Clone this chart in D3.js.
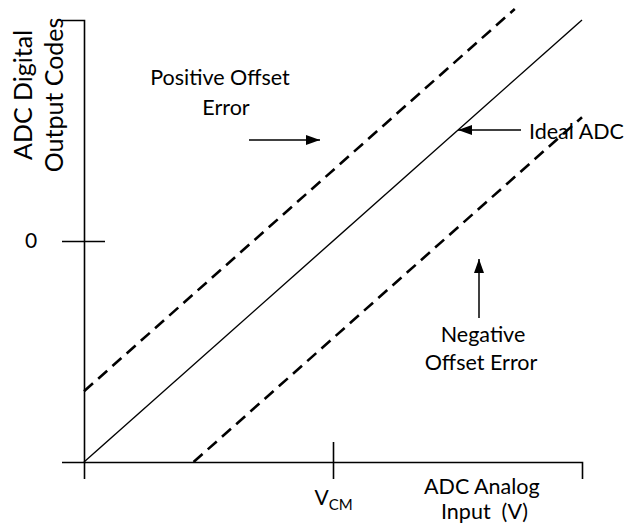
<!DOCTYPE html>
<html><head><meta charset="utf-8">
<script src="https://cdn.jsdelivr.net/npm/d3@7"></script>
<style>
body{margin:0;background:#fff}
svg text{font-family:Lato,"Open Sans",sans-serif;fill:#000;white-space:pre}
</style>
</head><body>
<svg id="c" width="635" height="525"></svg>
<script>
// ---- data (conceptual units 0..100) ----
const idealX = [0, 100];
const idealY = [0, 100];
const posOffsetX = [0, 86.5];
const posOffsetY = [16, 102.5];
const negOffsetX = [22, 100];
const negOffsetY = [0, 78];
const yTickValues = [50];
const yTickLabels = ["0"];
const xTickValues = [50];
const xTickLabels = ["V|CM"]; // main|subscript
const yTitleLines = ["ADC Digital", "Output Codes"];
const xTitleLines = ["ADC Analog", "Input  (V)"];

const svg = d3.select("#c");
const x = d3.scaleLinear().domain([0, 100]).range([84, 582]);
const y = d3.scaleLinear().domain([0, 100]).range([462, 20]);

// arrow marker
svg.append("defs").append("marker")
  .attr("id", "ah").attr("markerUnits", "userSpaceOnUse")
  .attr("viewBox", "0 0 14 10").attr("refX", 14).attr("refY", 5)
  .attr("markerWidth", 14).attr("markerHeight", 10).attr("orient", "auto")
  .append("path").attr("d", "M0,0L14,5L0,10Z").attr("fill", "#000");

// y axis
const gy = svg.append("g").attr("transform", `translate(${x(0)},0)`)
  .call(d3.axisLeft(y).tickValues(yTickValues).tickSizeOuter(0).tickSize(22)
        .tickFormat((d, i) => yTickLabels[i]));
gy.select(".domain").attr("stroke", "#000").attr("stroke-width", 1.6);
gy.selectAll(".tick line").attr("x1", 21).attr("x2", -22).attr("stroke-width", 1.6);
gy.selectAll(".tick text").attr("x", -53).attr("text-anchor", "middle")
  .attr("dy", "0.32em").style("font-size", "21px").style("font-family", "Lato");

// x axis
const gx = svg.append("g").attr("transform", `translate(0,${y(0)})`)
  .call(d3.axisBottom(x).tickValues(xTickValues).tickSizeOuter(0).tickSize(17)
        .tickFormat(() => ""));
gx.select(".domain").attr("stroke", "#000").attr("stroke-width", 1.6);
gx.selectAll(".tick line").attr("y1", -20).attr("y2", 17).attr("stroke-width", 1.6);
gx.selectAll(".tick text").remove();
gx.selectAll(".tick").each(function (d, i) {
  const parts = xTickLabels[i].split("|");
  const t = d3.select(this).append("text").attr("x", 0).attr("y", 43)
    .attr("text-anchor", "middle").style("font-size", "21px");
  t.append("tspan").text(parts[0]);
  t.append("tspan").attr("dy", 5).style("font-size", "15px").text(parts[1]);
});

// lines
const line = d3.line().x(d => x(d[0])).y(d => y(d[1]));
svg.append("path").datum(d3.zip(idealX, idealY)).attr("d", line)
  .attr("fill", "none").attr("stroke", "#000").attr("stroke-width", 1.4);
svg.append("path").datum(d3.zip(posOffsetX, posOffsetY)).attr("d", line)
  .attr("fill", "none").attr("stroke", "#000").attr("stroke-width", 2.6)
  .attr("stroke-dasharray", "12,7");
svg.append("path").datum(d3.zip(negOffsetX, negOffsetY)).attr("d", line)
  .attr("fill", "none").attr("stroke", "#000").attr("stroke-width", 2.6)
  .attr("stroke-dasharray", "12,7");

// axis titles
const yt = svg.append("text").attr("transform", "translate(0,95) rotate(-90)")
  .attr("text-anchor", "middle").style("font-size", "25px");
yt.append("tspan").attr("x", 0).attr("y", 32).text(yTitleLines[0]);
yt.append("tspan").attr("x", 0).attr("y", 63).text(yTitleLines[1]);

svg.append("text").attr("x", 424).attr("y", 494).style("font-size", "21.5px").text(xTitleLines[0]);
svg.append("text").attr("x", 441).attr("y", 519).style("font-size", "21.5px").text(xTitleLines[1]);

// annotations
const fs = "21.5px";
svg.append("text").attr("x", 220).attr("y", 85).attr("text-anchor", "middle").style("font-size", fs).text("Positive Offset");
svg.append("text").attr("x", 226).attr("y", 115).attr("text-anchor", "middle").style("font-size", fs).text("Error");
svg.append("line").attr("x1", 249).attr("y1", 140).attr("x2", 320).attr("y2", 140)
  .attr("stroke", "#000").attr("stroke-width", 1.5).attr("marker-end", "url(#ah)");

svg.append("text").attr("x", 529).attr("y", 139).style("font-size", fs).text("Ideal ADC");
svg.append("line").attr("x1", 521).attr("y1", 130).attr("x2", 458).attr("y2", 130)
  .attr("stroke", "#000").attr("stroke-width", 1.5).attr("marker-end", "url(#ah)");

svg.append("line").attr("x1", 479).attr("y1", 318).attr("x2", 479).attr("y2", 259)
  .attr("stroke", "#000").attr("stroke-width", 1.5).attr("marker-end", "url(#ah)");
svg.append("text").attr("x", 483).attr("y", 342).attr("text-anchor", "middle").style("font-size", fs).text("Negative");
svg.append("text").attr("x", 481).attr("y", 370).attr("text-anchor", "middle").style("font-size", fs).text("Offset Error");
</script>
</body></html>
